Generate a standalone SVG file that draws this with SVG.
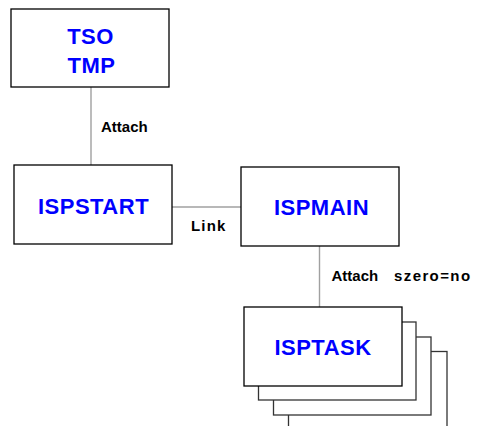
<svg xmlns="http://www.w3.org/2000/svg" width="477" height="426" viewBox="0 0 477 426">
<style>
.box{fill:#fff;stroke:#000;stroke-width:1.3}
.sh{fill:#fff;stroke:#333;stroke-width:1.3}
.conn{stroke:#a0a0a0;stroke-width:1.4;fill:none}
.n{font-family:"Liberation Sans",Arial,sans-serif;font-weight:bold;font-size:22px;letter-spacing:0.5px;fill:#0000ff;text-anchor:middle}
.l{font-family:"Liberation Sans",Arial,sans-serif;font-weight:bold;font-size:15px;fill:#000}
</style>
<rect width="477" height="426" fill="#fff"/>
<g id="connectors">
<line class="conn" x1="91" y1="87" x2="91" y2="165"/>
<line class="conn" x1="172" y1="207" x2="241" y2="207"/>
<line class="conn" x1="319.5" y1="246" x2="319.5" y2="307"/>
<text class="l" x="101" y="132">Attach</text>
<text class="l" x="191" y="231" letter-spacing="1.2">Link</text>
<text class="l" x="331.5" y="281"><tspan>Attach</tspan><tspan x="394" letter-spacing="1.4">szero=no</tspan></text>
</g>
<g id="tso">
<rect class="box" x="11" y="9" width="158" height="78"/>
<text class="n" x="90.5" y="44">TSO</text>
<text class="n" x="91.5" y="73">TMP</text>
</g>
<g id="ispstart">
<rect class="box" x="14" y="165" width="158" height="79"/>
<text class="n" x="93.5" y="214">ISPSTART</text>
</g>
<g id="ispmain">
<rect class="box" x="241" y="167" width="158" height="79"/>
<text class="n" x="321.5" y="215">ISPMAIN</text>
</g>
<g id="isptask">
<rect class="sh" x="288.5" y="351.5" width="158.5" height="90"/>
<rect class="sh" x="273.5" y="337" width="157.5" height="78"/>
<rect class="sh" x="258.5" y="322" width="157.5" height="78"/>
<rect class="box" x="244" y="307" width="158" height="79"/>
<text class="n" x="323" y="355">ISPTASK</text>
</g>
</svg>
